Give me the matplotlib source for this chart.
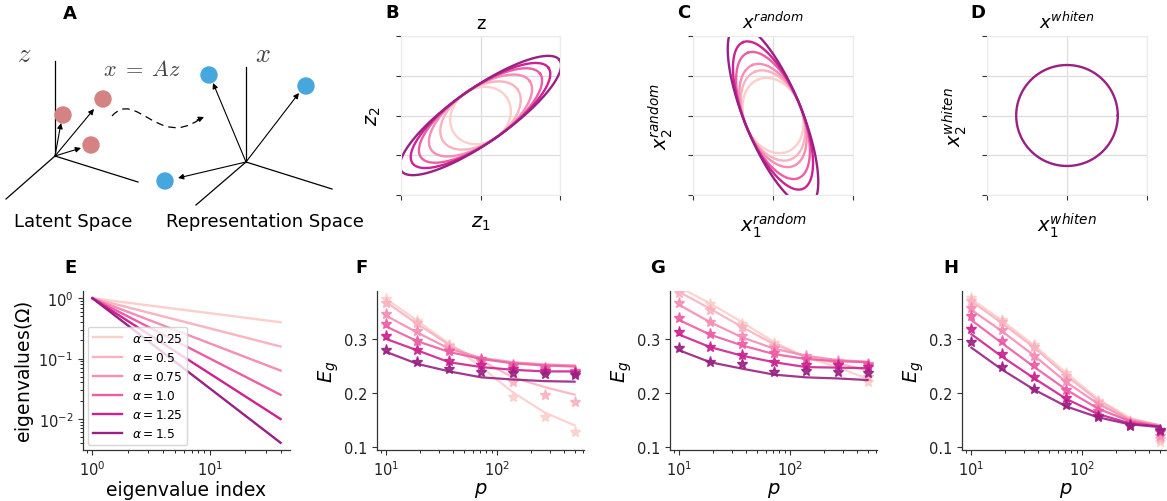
import numpy as np
import matplotlib.pyplot as plt
from matplotlib.patches import Circle, PathPatch
from matplotlib.path import Path

# ---------------- data ----------------
alphas = [0.25, 0.5, 0.75, 1.0, 1.25, 1.5]
alpha_labels = [r'$\alpha = %s$' % a for a in alphas]

# panel B / C / D ellipses (semi axes, rotation in degrees)
z_major = [0.80, 1.14, 1.51, 1.83, 2.09, 2.43]
z_minor = 0.68
z_angle = 35
xr_major = [0.98, 1.19, 1.37, 1.70, 1.99, 2.44]
xr_minor = 0.72
xr_angle = 112
xw_radius = 1.27

# panel E: eigenvalue index endpoints and eigenvalues
eig_index = [1, 40]
eig_end = [0.40, 0.158, 0.063, 0.025, 0.0099, 0.0040]

# panels F-H
p_vals = [10, 19, 37, 72, 139, 268, 500]

F_sim = [
    [0.374, 0.334, 0.289, 0.260, 0.193, 0.156, 0.127],
    [0.367, 0.329, 0.288, 0.260, 0.220, 0.197, 0.184],
    [0.346, 0.314, 0.279, 0.260, 0.248, 0.243, 0.238],
    [0.327, 0.297, 0.277, 0.263, 0.251, 0.246, 0.240],
    [0.305, 0.280, 0.259, 0.251, 0.245, 0.240, 0.237],
    [0.280, 0.258, 0.245, 0.238, 0.237, 0.235, 0.234],
]
F_theory = [
    [0.374, 0.334, 0.291, 0.248, 0.201, 0.164, 0.140],
    [0.368, 0.328, 0.289, 0.260, 0.229, 0.211, 0.197],
    [0.343, 0.312, 0.282, 0.265, 0.257, 0.253, 0.251],
    [0.323, 0.296, 0.276, 0.263, 0.255, 0.251, 0.249],
    [0.300, 0.279, 0.257, 0.248, 0.243, 0.240, 0.240],
    [0.276, 0.254, 0.240, 0.229, 0.225, 0.222, 0.221],
]

G_sim = [
    [0.390, 0.364, 0.328, 0.292, 0.265, 0.251, 0.221],
    [0.385, 0.354, 0.322, 0.288, 0.263, 0.254, 0.229],
    [0.366, 0.332, 0.305, 0.284, 0.268, 0.259, 0.254],
    [0.339, 0.309, 0.290, 0.274, 0.263, 0.254, 0.251],
    [0.313, 0.286, 0.271, 0.258, 0.251, 0.252, 0.248],
    [0.284, 0.258, 0.253, 0.238, 0.240, 0.238, 0.237],
]
G_theory = [
    [0.396, 0.366, 0.331, 0.294, 0.266, 0.248, 0.226],
    [0.387, 0.356, 0.322, 0.290, 0.267, 0.255, 0.242],
    [0.363, 0.331, 0.303, 0.282, 0.269, 0.261, 0.258],
    [0.335, 0.308, 0.288, 0.272, 0.263, 0.259, 0.257],
    [0.308, 0.285, 0.269, 0.257, 0.248, 0.247, 0.246],
    [0.279, 0.257, 0.245, 0.234, 0.229, 0.227, 0.224],
]

H_sim = [
    [0.376, 0.335, 0.289, 0.237, 0.186, 0.148, 0.109],
    [0.371, 0.331, 0.285, 0.232, 0.183, 0.146, 0.115],
    [0.358, 0.317, 0.269, 0.222, 0.175, 0.144, 0.121],
    [0.342, 0.297, 0.252, 0.206, 0.166, 0.143, 0.127],
    [0.319, 0.272, 0.230, 0.190, 0.158, 0.140, 0.130],
    [0.294, 0.249, 0.208, 0.177, 0.156, 0.138, 0.132],
]
H_theory = [
    [0.374, 0.334, 0.288, 0.237, 0.189, 0.154, 0.140],
    [0.370, 0.329, 0.284, 0.232, 0.186, 0.152, 0.140],
    [0.354, 0.314, 0.269, 0.220, 0.180, 0.150, 0.140],
    [0.335, 0.292, 0.248, 0.206, 0.171, 0.148, 0.138],
    [0.309, 0.267, 0.227, 0.189, 0.161, 0.144, 0.138],
    [0.284, 0.243, 0.206, 0.175, 0.155, 0.142, 0.137],
]

# panel A schematic geometry (pixel-like units)
lat_origin = (55, 157)
lat_axes_ends = [(55, 62), (138, 183), (6, 200)]
lat_points = [(63, 116), (103, 100), (91, 146)]
lat_tips = [(61, 124), (94, 110), (81, 149)]
rep_origin = (246, 163)
rep_axes_ends = [(246, 68), (332, 190), (196, 206)]
rep_points = [(209, 76), (306, 87), (165, 182)]
rep_tips = [(213, 84), (299, 94), (178, 179)]
wave_pts = [(112, 117), (136, 90), (158, 150), (200, 120)]

colors = ['#fbcfcb', '#f9b2c0', '#f58db4', '#ec5ea4', '#cd2290', '#9a2083']

W, H = 1167, 502
fig = plt.figure(figsize=(W / 100, H / 100), dpi=100)


def px_axes(left, top, width, height):
    return fig.add_axes([left / W, 1 - (top + height) / H, width / W, height / H])


def ellipse(a, b, ang):
    t = np.linspace(0, 2 * np.pi, 300)
    th = np.deg2rad(ang)
    x = a * np.cos(t) * np.cos(th) - b * np.sin(t) * np.sin(th)
    y = a * np.cos(t) * np.sin(th) + b * np.sin(t) * np.cos(th)
    return x, y


# ---------------- panel A ----------------
axA = px_axes(0, 0, 380, 240)
axA.set_xlim(0, 380)
axA.set_ylim(240, 0)
axA.axis('off')
for org, ends, pts, tips, col in [(lat_origin, lat_axes_ends, lat_points, lat_tips, '#d48282'),
                                  (rep_origin, rep_axes_ends, rep_points, rep_tips, '#45a7de')]:
    for e in ends:
        axA.plot([org[0], e[0]], [org[1], e[1]], color='k', lw=0.9)
    for pt in pts:
        axA.add_patch(Circle(pt, 8, color=col, zorder=3))
    for tp in tips:
        axA.annotate('', xy=tp, xytext=org,
                     arrowprops=dict(arrowstyle='-|>', color='k', lw=0.8,
                                     mutation_scale=8, shrinkA=0, shrinkB=0))
wave = Path(wave_pts, [Path.MOVETO, Path.CURVE4, Path.CURVE4, Path.CURVE4])
axA.add_patch(PathPatch(wave, fill=False, lw=0.9, ls=(0, (6, 4)), color='k'))
axA.annotate('', xy=(204, 118), xytext=(197, 121),
             arrowprops=dict(arrowstyle='-|>', color='k', lw=0.8, mutation_scale=8,
                             shrinkA=0, shrinkB=0))
axA.text(24, 55, r'$z$', fontsize=19, math_fontfamily='cm', color='#444444', ha='center', va='center')
axA.text(263, 55, r'$x$', fontsize=19, math_fontfamily='cm', color='#444444', ha='center', va='center')
axA.text(142, 70, r'$x\;=\;Az$', fontsize=16, math_fontfamily='cm', color='#444444', ha='center', va='center')
axA.text(73, 222, 'Latent Space', fontsize=13, ha='center', va='center')
axA.text(265, 222, 'Representation Space', fontsize=13, ha='center', va='center')


# ---------------- panels B, C, D ----------------
def style_grid_ax(ax):
    ax.set_xlim(-2, 2)
    ax.set_ylim(-2, 2)
    ax.set_xticks([-2, 0, 2])
    ax.set_yticks([-2, -1, 0, 1, 2])
    ax.set_xticklabels([])
    ax.set_yticklabels([])
    ax.grid(True, color='#dedede', lw=0.9)
    ax.set_axisbelow(True)
    for s in ax.spines.values():
        s.set_color('#ebebeb')
    ax.tick_params(length=3.5, width=0.8, color='#333333')


axB = px_axes(401, 37, 159, 159)
style_grid_ax(axB)
for a, c in zip(z_major, colors):
    x, y = ellipse(a, z_minor, z_angle)
    axB.plot(x, y, color=c, lw=1.7)
axB.set_title('z', fontsize=13, pad=6)
axB.set_xlabel(r'$z_1$', fontsize=14, labelpad=6)
axB.set_ylabel(r'$z_2$', fontsize=14, labelpad=6)

axC = px_axes(693, 37, 160, 159)
style_grid_ax(axC)
for a, c in zip(xr_major, colors):
    x, y = ellipse(a, xr_minor, xr_angle)
    axC.plot(x, y, color=c, lw=1.7)
axC.set_title(r'$x^{random}$', fontsize=13, pad=6)
axC.set_xlabel(r'$x_1^{random}$', fontsize=14, labelpad=4)
axC.set_ylabel(r'$x_2^{random}$', fontsize=14, labelpad=6)

axD = px_axes(987, 37, 160, 159)
style_grid_ax(axD)
x, y = ellipse(xw_radius, xw_radius, 0)
axD.plot(x, y, color=colors[-1], lw=1.7)
axD.set_title(r'$x^{whiten}$', fontsize=13, pad=6)
axD.set_xlabel(r'$x_1^{whiten}$', fontsize=14, labelpad=4)
axD.set_ylabel(r'$x_2^{whiten}$', fontsize=14, labelpad=6)


# ---------------- panels E-H ----------------
def style_line_ax(ax):
    for s in ['top', 'right']:
        ax.spines[s].set_visible(False)
    for s in ['left', 'bottom']:
        ax.spines[s].set_color('#333333')
        ax.spines[s].set_linewidth(0.9)
    ax.tick_params(labelsize=10.5, color='#333333', labelcolor='#222222')


axE = px_axes(83, 292, 207, 159)
style_line_ax(axE)
for e_end, c, lab in zip(eig_end, colors, alpha_labels):
    axE.plot(eig_index, [1.0, e_end], color=c, lw=1.7, label=lab)
axE.set_xscale('log')
axE.set_yscale('log')
axE.set_xlabel('eigenvalue index', fontsize=13.5, labelpad=1)
axE.set_ylabel(r'eigenvalues($\Omega$)', fontsize=13.5, labelpad=2)
axE.legend(loc='lower left', fontsize=8.8, handlelength=2.4, labelspacing=0.5,
           borderaxespad=0.4, framealpha=0.8)

for left, sim, theo in [(377, F_sim, F_theory), (670, G_sim, G_theory), (962, H_sim, H_theory)]:
    ax = px_axes(left, 292, 207, 159)
    style_line_ax(ax)
    for s_vals, t_vals, c in zip(sim, theo, colors):
        ax.plot(p_vals, t_vals, color=c, lw=1.6, alpha=0.9)
        ax.plot(p_vals, s_vals, ls='none', marker='*', ms=8, color=c, alpha=0.9)
    ax.set_xscale('log')
    ax.set_ylim(0.0944, 0.389)
    ax.set_yticks([0.1, 0.2, 0.3])
    ax.set_xlabel(r'$p$', fontsize=14, labelpad=1)
    ax.set_ylabel(r'$E_g$', fontsize=14, labelpad=2)

# panel letters
for letter, (lx, ly) in zip('ABCDEFGH', [(70, 14), (392, 13), (684, 13), (978, 13),
                                          (70, 268), (362, 268), (658, 268), (951, 268)]):
    fig.text(lx / W, 1 - ly / H, letter, fontsize=13, fontweight='bold', ha='center', va='center')

fig.savefig('out.png', dpi=100)
